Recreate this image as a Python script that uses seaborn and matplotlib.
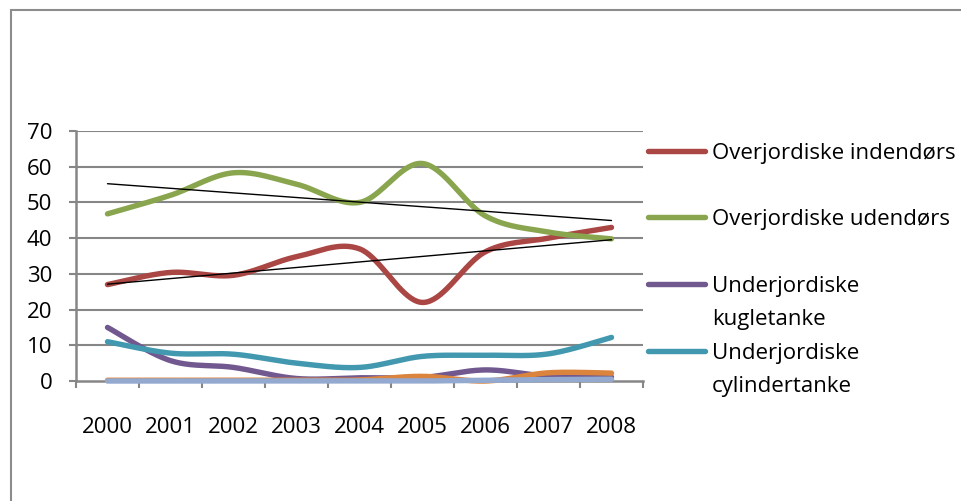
import numpy as np
import pandas as pd
import matplotlib
matplotlib.use("Agg")
import matplotlib.pyplot as plt
from matplotlib.patches import Rectangle
from matplotlib.lines import Line2D
import seaborn as sns

years = ["2000", "2001", "2002", "2003", "2004", "2005", "2006", "2007", "2008"]
over_inde = [27, 30.4, 29.6, 34.8, 37, 22, 36.2, 40, 43]
over_ude = [46.8, 52, 58.3, 55.1, 50, 60.9, 46.2, 41.7, 39.8]
under_kugle = [15, 5.7, 3.8, 0.7, 0.9, 1.0, 3.1, 1.3, 1.1]
under_cyl = [11, 7.8, 7.5, 5.0, 3.8, 6.9, 7.2, 7.6, 12.2]
orange_series = [0.2, 0.2, 0.2, 0.2, 0.3, 1.3, 0.0, 2.3, 2.2]
lightblue_series = [0, 0, 0, 0, 0, 0, 0.2, 0.4, 0.5]

series_names = ["Overjordiske indendørs", "Overjordiske udendørs",
                "Underjordiske\nkugletanke", "Underjordiske\ncylindertanke",
                "Serie 5", "Serie 6"]
series_values = [over_inde, over_ude, under_kugle, under_cyl, orange_series, lightblue_series]
colors = ["#AA4643", "#89A54E", "#71588F", "#4198AF", "#DB843D", "#93A9CF"]
legend_count = 4

FONT = ["Open Sans", "DejaVu Sans"]
FS = 16


def smooth(vals, per=40):
    P = np.column_stack([np.arange(len(vals), dtype=float), np.asarray(vals, dtype=float)])
    n = len(P)
    out = []
    t = np.linspace(0, 1, per)[:, None]
    for i in range(n - 1):
        p0 = P[i - 1] if i > 0 else P[i]
        p3 = P[i + 2] if i + 2 < n else P[i + 1]
        a, d = P[i], P[i + 1]
        b = a + (d - p0) / 6.0
        c = d - (p3 - a) / 6.0
        seg = ((1 - t) ** 3) * a + 3 * ((1 - t) ** 2) * t * b + 3 * (1 - t) * t ** 2 * c + t ** 3 * d
        out.append(seg if i == 0 else seg[1:])
    return np.vstack(out)


sns.set_theme(style="white")
plt.rcParams["font.family"] = FONT

W, H = 962, 501
fig = plt.figure(figsize=(W / 100, H / 100), dpi=100)
left, right, top, bottom = 76, 643, 131, 381
ax = fig.add_axes([left / W, 1 - bottom / H, (right - left) / W, (bottom - top) / H])

grid_c = "#868686"
for name, vals, col in zip(series_names, series_values, colors):
    pts = smooth(vals)
    d = pd.DataFrame({"x": pts[:, 0], "y": pts[:, 1]})
    sns.lineplot(data=d, x="x", y="y", color=col, linewidth=3.9, sort=False,
                 estimator=None, legend=False, ax=ax, solid_capstyle="round",
                 zorder=2, clip_on=False)

# linear trendlines for the two upper series
xs = np.arange(len(years))
for vals in (over_ude, over_inde):
    m, b0 = np.polyfit(xs, vals, 1)
    sns.lineplot(x=[xs[0], xs[-1]], y=[m * xs[0] + b0, m * xs[-1] + b0],
                 color="black", linewidth=1.0, ax=ax, zorder=5)

ax.set_xlim(-0.5, len(years) - 0.5)
ax.set_ylim(0, 70)
ax.set_yticks(range(0, 71, 10))
ax.set_xticks(xs)
ax.set_xticklabels(years)
ax.set_xticks(np.arange(-0.5, len(years), 1.0), minor=True)
ax.set_xlabel("")
ax.set_ylabel("")
for yv in range(10, 71, 10):
    ax.axhline(yv, color=grid_c, linewidth=1.5, zorder=0.5)
for s in ["top", "right"]:
    ax.spines[s].set_visible(False)
for s in ["left", "bottom"]:
    ax.spines[s].set_color(grid_c)
    ax.spines[s].set_linewidth(1.8)
ax.spines["bottom"].set_zorder(0.6)
ax.tick_params(axis="y", which="major", left=True, length=5, width=1.5, color=grid_c,
               pad=12, labelsize=FS, labelcolor="black")
ax.tick_params(axis="x", which="major", bottom=False, length=0, pad=26,
               labelsize=FS, labelcolor="black")
ax.tick_params(axis="x", which="minor", bottom=True, length=5, width=1.5, color=grid_c)
for lbl in ax.get_xticklabels() + ax.get_yticklabels():
    lbl.set_family(FONT)
ax.set_facecolor("white")

# legend (Excel style: handle aligned with first text line)
ys = [151, 217, 284, 351]
for i in range(legend_count):
    yf = 1 - ys[i] / H
    fig.add_artist(Line2D([648 / W, 705 / W], [yf, yf], transform=fig.transFigure,
                          color=colors[i], linewidth=3.9, solid_capstyle="round"))
    fig.text(712 / W, 1 - (ys[i] - 8) / H, series_names[i], ha="left", va="top",
             fontsize=FS, family=FONT, linespacing=1.75, color="black")

# outer chart border (clipped at right and bottom)
fig.add_artist(Rectangle((11 / W, -0.5), 2.0, (1 - 10 / H) + 0.5, transform=fig.transFigure,
                         fill=False, edgecolor="#8c8c8c", linewidth=1.5))

fig.savefig("out.png", dpi=100, facecolor="white")
